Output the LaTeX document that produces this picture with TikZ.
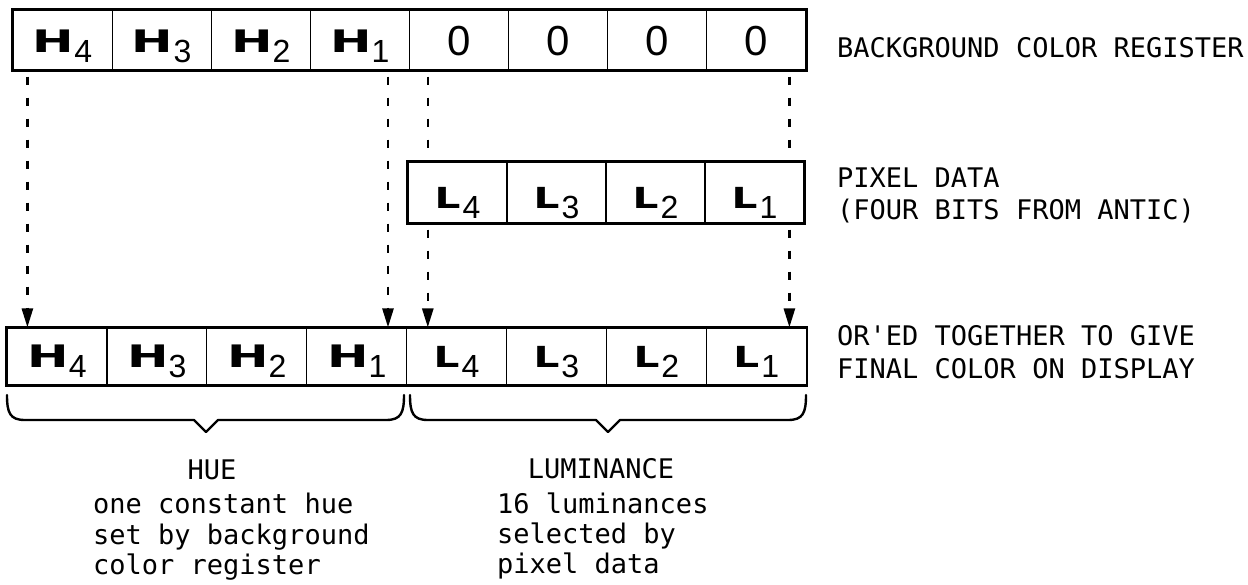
\documentclass[tikz,border=0pt]{standalone}
\usepackage{fontspec}
\usepackage{graphicx}
\usetikzlibrary{arrows.meta,calc}
\newfontfamily\labfont{DejaVu Sans Mono}
\newfontfamily\regsans{Liberation Sans}
\newfontfamily\bsans{DejaVu Sans}
\newcommand\Hs[1]{\hbox{\bsans\bfseries\fontsize{31}{31}\selectfont\scalebox{1.6}[1]{H}}\lower10pt\hbox{\regsans\fontsize{32}{32}\selectfont#1}}
\newcommand\Ls[1]{\hbox{\bsans\bfseries\fontsize{29}{29}\selectfont\scalebox{1.4}[1]{L}}\kern2pt\lower10pt\hbox{\regsans\fontsize{32}{32}\selectfont#1}}
\newcommand\Zr{\hbox{\regsans\fontsize{42}{42}\selectfont 0}}
\tikzset{
  cell/.style={draw, line width=1.2pt, inner sep=0pt, anchor=center, text depth=6pt},
  outer/.style={line width=2.2pt},
  dashline/.style={line width=2.6pt, dash pattern=on 8pt off 13pt},
  dasharrow/.style={dashline, -{Triangle[width=11pt,length=19pt]}},
  lab/.style={font=\labfont\fontsize{27}{27}\selectfont, inner sep=0pt, anchor=base west},
  bracestyle/.style={line width=2.4pt, line join=round, line cap=round},
}
\begin{document}
\begin{tikzpicture}[x=1pt,y=-1pt]
\useasboundingbox (0,0) rectangle (1248,584);
\fill[white] (0,0) rectangle (1248,584);

% background color register
\foreach \i/\t/\h in {1/\Hs{4}/30,2/\Hs{3}/30,3/\Hs{2}/30,4/\Hs{1}/30,5/\Zr/36,6/\Zr/36,7/\Zr/36,8/\Zr/36}
  \node[cell, minimum width=99.1pt, minimum height=60pt, text height=\h pt] (top\i) at ({13+99.1*(\i-0.5)},40) {\t};
\draw[outer] (top1.north west) rectangle (top8.south east);

% pixel data
\foreach \i/\t in {1/4,2/3,3/2,4/1}
  \node[cell, minimum width=99pt, minimum height=61pt, text height=37pt] (pix\i) at ({408+99*(\i-0.5)},192.5) {\Ls{\t}};
\draw[outer] (pix1.north west) rectangle (pix4.south east);

% final color
\foreach \i/\t in {1/\Hs{4},2/\Hs{3},3/\Hs{2},4/\Hs{1},5/\Ls{4},6/\Ls{3},7/\Ls{2},8/\Ls{1}}
  \node[cell, minimum width=99.9pt, minimum height=57pt, text height=28pt] (bot\i) at ({7+99.9*(\i-0.5)},356.5) {\t};
\draw[outer] (bot1.north west) rectangle (bot8.south east);

% dashed connectors
\coordinate (a1) at ([xshift=15pt,yshift=-6pt]top1.south west);
\draw[dasharrow] (a1) -- (a1 |- bot1.north);
\coordinate (a2) at ([xshift=-22pt,yshift=-6pt]top4.south east);
\draw[dasharrow] (a2) -- (a2 |- bot4.north);

\coordinate (a3) at ([xshift=19pt,yshift=-6pt]top5.south west);
\path (a3 |- pix1.north) coordinate (a3e);
\path (a3 |- pix1.south) coordinate (a3f);
\draw[dashline] (a3) -- ([yshift=6pt]a3e);
\draw[dasharrow] ([yshift=-6pt]a3f) -- (a3f |- bot5.north);

\coordinate (a4) at ([xshift=-17pt,yshift=-6pt]top8.south east);
\path (a4 |- pix4.north) coordinate (a4e);
\path (a4 |- pix4.south) coordinate (a4f);
\draw[dashline] (a4) -- (a4e);
\draw[dasharrow] ([yshift=-6pt]a4f) -- (a4f |- bot8.north);

% braces
\draw[bracestyle] (7,395) .. controls (7,413) and (10,420) .. (25,420) -- (194,420) -- (206,432) -- (218,420) -- (386,420) .. controls (401,420) and (404,413) .. (404,395);
\draw[bracestyle] (410,395) .. controls (410,413) and (413,420) .. (428,420) -- (596,420) -- (608,432) -- (620,420) -- (788,420) .. controls (803,420) and (806,413) .. (806,395);

% labels
\node[lab] (bcr) at (837,57) {BACKGROUND COLOR REGISTER};
\node[lab] (pd1) at (837,187) {PIXEL DATA};
\node[lab] (pd2) at (837,219) {(FOUR BITS FROM ANTIC)};
\node[lab] (or1) at (837,345) {OR\textquotesingle ED TOGETHER TO GIVE};
\node[lab] (or2) at (837,378) {FINAL COLOR ON DISPLAY};

\node[lab, anchor=base] (hue) at (212,479) {HUE};
\node[lab] (h1) at (93,513) {one constant hue};
\node[lab] (h2) at (93,544) {set by background};
\node[lab] (h3) at (93,574) {color register};

\node[lab, anchor=base] (lum) at (601,478) {LUMINANCE};
\node[lab] (l1) at (497,513) {16 luminances};
\node[lab] (l2) at (497,543) {selected by};
\node[lab] (l3) at (497,573) {pixel data};
\end{tikzpicture}
\end{document}
